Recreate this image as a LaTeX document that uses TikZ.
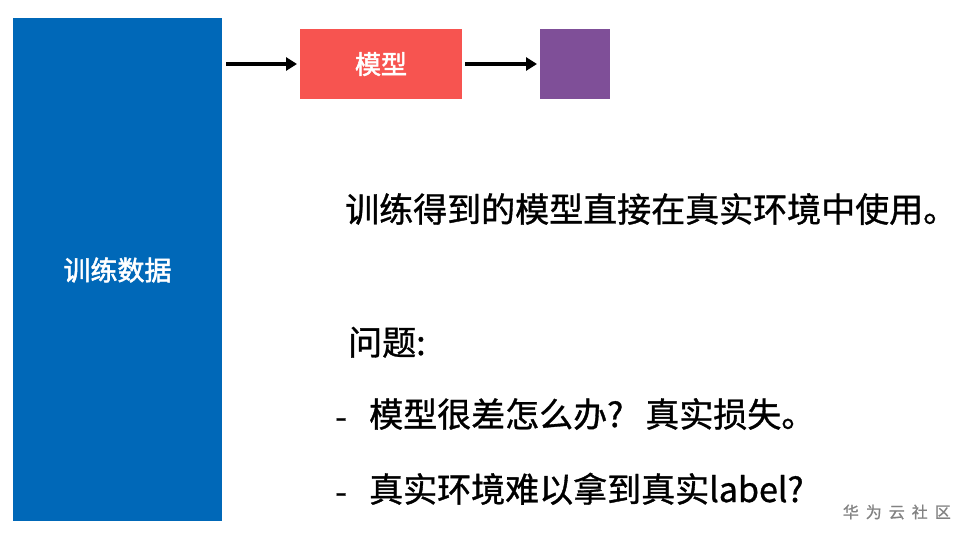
\documentclass[tikz,border=0pt]{standalone}
\usepackage{fontspec}
\setmainfont{Noto Sans CJK SC}[FakeBold=1]
\newfontfamily\labelfont{Noto Sans CJK SC}[FakeBold=2]
\usetikzlibrary{arrows.meta}
\definecolor{dblue}{RGB}{0,104,184}
\definecolor{mred}{RGB}{247,84,80}
\definecolor{mpurple}{RGB}{127,79,152}
\definecolor{wmgray}{RGB}{130,130,130}
\tikzset{
  box/.style={draw=none, inner sep=0pt, outer sep=0pt},
  conn/.style={line width=3.2pt, -{Triangle[length=11pt,width=13pt]}},
  txt/.style={anchor=base west, inner sep=0pt, font=\fontsize{34}{38}\selectfont},
}
\begin{document}
\begin{tikzpicture}[x=1pt,y=1pt]
\useasboundingbox (0,0) rectangle (963,-537);
\node[box, fill=dblue, minimum width=209pt, minimum height=503pt] (data) at (117.5,-269.5) {};
\node[text=white, font=\labelfont\fontsize{27}{30}\selectfont] (datalabel) at (117.5,-270) {训练数据};
\node[box, fill=mred, minimum width=162pt, minimum height=70pt] (model) at (381,-64) {};
\node[text=white, font=\labelfont\fontsize{26}{30}\selectfont] (modellabel) at (381,-64) {模型};
\node[box, fill=mpurple, minimum width=70pt, minimum height=70pt] (out) at (575,-64) {};
\draw[conn] (data.east |- model.west) ++(4,0) coordinate (a1) -- ([xshift=-3pt]model.west);
\draw[conn] ([xshift=3pt]model.east) -- ([xshift=-3pt]out.west);
\node[txt] (l1) at (345,-222) {训练得到的模型直接在真实环境中使用。};
\node[txt] (l2) at (348,-355) {问题:};
\node[txt] (d1) at (335,-429) {-};
\node[txt] (l3) at (369,-427) {模型很差怎么办?\hspace{22pt}真实损失。};
\node[txt] (d2) at (335,-504) {-};
\node[txt] (l4) at (369,-502) {真实环境难以拿到真实label?};
\node[anchor=east, inner sep=0pt, text=wmgray, font=\fontsize{16}{18}\selectfont] (wm) at (951,-512) {华\hspace{7pt}为\hspace{7pt}云\hspace{7pt}社\hspace{7pt}区};
\end{tikzpicture}
\end{document}
